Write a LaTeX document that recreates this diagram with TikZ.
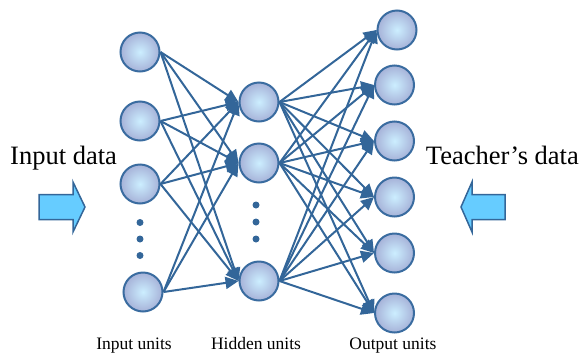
\documentclass[tikz,border=0pt]{standalone}
\usepackage{fontspec}
\setmainfont{Liberation Serif}
\usetikzlibrary{arrows.meta}
\definecolor{edgeblue}{RGB}{51,102,153}
\definecolor{rimblue}{RGB}{58,108,160}
\definecolor{innercy}{RGB}{204,238,255}
\definecolor{outerlav}{RGB}{166,178,216}
\definecolor{blockfill}{RGB}{102,204,255}
\tikzset{
  unit/.style={circle, minimum size=39pt, inner sep=0pt, draw=rimblue, line width=2pt,
    shading=radial, inner color=innercy, outer color=outerlav},
  conn/.style={draw=edgeblue, line width=2pt, -{Triangle[length=13pt,width=12pt]}},
  dotmark/.style={circle, fill=edgeblue, minimum size=7pt, inner sep=0pt},
  bigtext/.style={font=\fontsize{26.5}{30}\selectfont, inner sep=0pt},
  smalltext/.style={font=\fontsize{17.5}{20}\selectfont, inner sep=0pt},
  blockarrow/.style={fill=blockfill, draw=edgeblue, line width=1.5pt, line join=miter}
}
\begin{document}
\begin{tikzpicture}[x=1pt,y=-1pt]
\useasboundingbox (0,0) rectangle (581,354);
% input units
\node[unit] (i1) at (140,52) {};
\node[unit] (i2) at (140,121) {};
\node[unit] (i3) at (140,184) {};
\node[unit] (i4) at (143,292) {};
\node[dotmark] (id1) at (140,222.5) {};
\node[dotmark] (id2) at (140,239) {};
\node[dotmark] (id3) at (140,255.5) {};
% hidden units
\node[unit] (h1) at (259,102) {};
\node[unit] (h2) at (259,163) {};
\node[unit] (h3) at (259,281) {};
\node[dotmark] (hd1) at (256,205) {};
\node[dotmark] (hd2) at (256,222) {};
\node[dotmark] (hd3) at (256,239) {};
% output units
\node[unit] (o1) at (397,30) {};
\node[unit] (o2) at (394.5,85) {};
\node[unit] (o3) at (394.5,141) {};
\node[unit] (o4) at (394.5,197) {};
\node[unit] (o5) at (394.5,253) {};
\node[unit] (o6) at (394.5,313) {};
% connections
\foreach \a in {i1,i2,i3,i4}{
  \foreach \b in {h1,h2,h3}{
    \draw[conn] (\a.east) -- (\b.west);
  }
}
\foreach \a in {h1,h2,h3}{
  \foreach \b in {o1,o2,o3,o4,o5,o6}{
    \draw[conn] (\a.east) -- (\b.west);
  }
}
% texts
\node[bigtext, anchor=base west] (tin) at (10,164) {Input data};
\node[bigtext, anchor=base east] (tteach) at (579,164) {Teacher’s data};
\node[smalltext, anchor=base] (lin) at (134,349) {Input units};
\node[smalltext, anchor=base] (lhid) at (256,349) {Hidden units};
\node[smalltext, anchor=base] (lout) at (393,349) {Output units};
% block arrows
\draw[blockarrow] (39,194.5) -- (73,194.5) -- (73,182) -- (85,207) -- (73,232) -- (73,219.5) -- (39,219.5) -- cycle;
\draw[blockarrow] (505,194.5) -- (472,194.5) -- (472,182) -- (461,207) -- (472,232) -- (472,219.5) -- (505,219.5) -- cycle;
\end{tikzpicture}
\end{document}
